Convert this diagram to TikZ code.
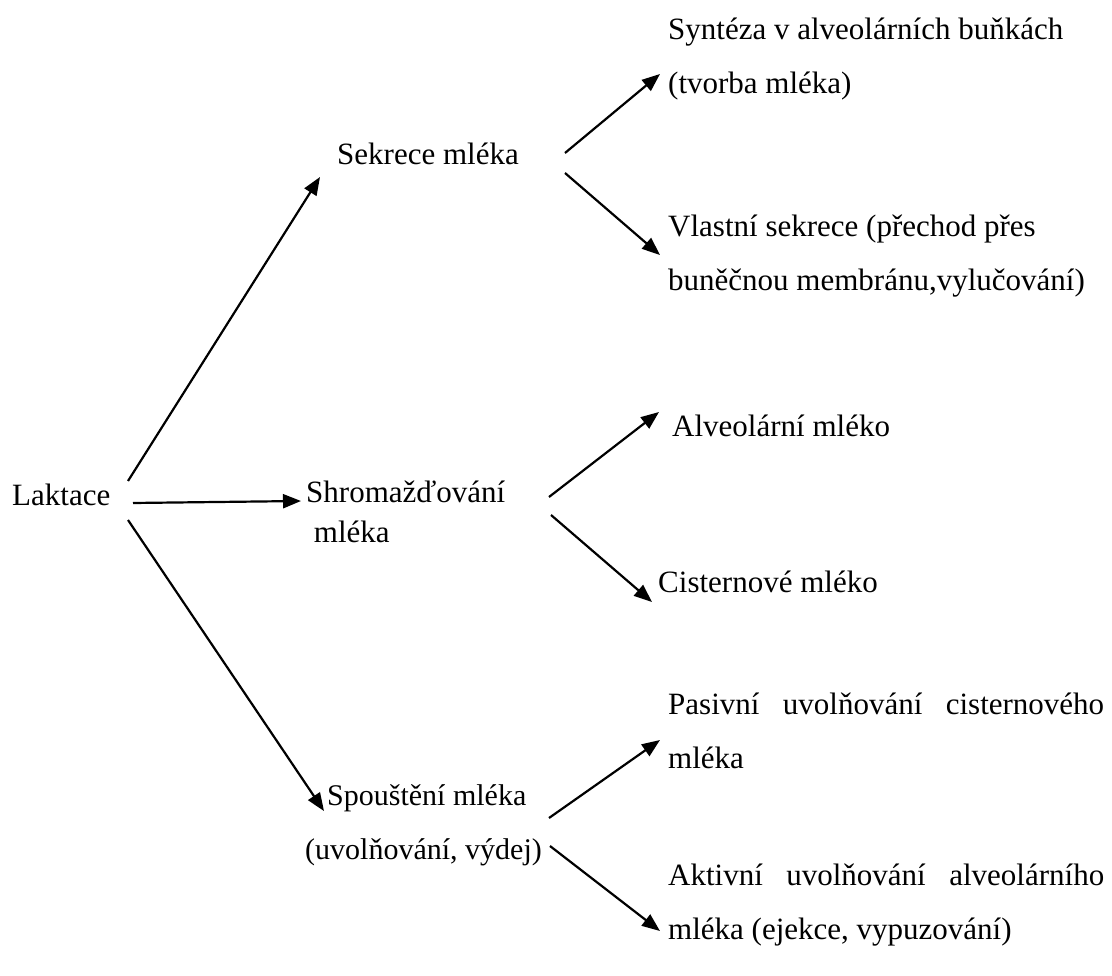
\documentclass[tikz,border=0pt]{standalone}
\usepackage{fontspec}
\setmainfont{Liberation Serif}
\usetikzlibrary{arrows.meta}
\newcommand{\jline}[1]{\makebox[436pt][s]{#1}}
\tikzset{
  txt/.style={inner sep=0pt, anchor=base west, font=\fontsize{31}{54}\selectfont},
  arr/.style={line width=2.2pt, -{Triangle[length=18pt,width=14pt]}},
}
\begin{document}
\begin{tikzpicture}[x=1pt,y=-1pt]
\useasboundingbox (0,0) rectangle (1112,976);
% nodes
\node[txt] (lak) at (12,505) {Laktace};
\node[txt] (sek) at (337,165) {Sekrece mléka};
\node[txt, font=\fontsize{31}{40}\selectfont] (shr) at (306,502) {\begin{tabular}[t]{@{}l@{}}Shromažďování\\ \ mléka\end{tabular}};
\node[txt, font=\fontsize{30}{54}\selectfont] (spo) at (305,805) {\begin{tabular}[t]{@{}l@{}}\hspace{22pt}Spouštění mléka\\(uvolňování, výdej)\end{tabular}};
\node[txt] (syn) at (668,40) {\begin{tabular}[t]{@{}l@{}}Syntéza v alveolárních buňkách\\(tvorba mléka)\end{tabular}};
\node[txt] (vla) at (668,237) {\begin{tabular}[t]{@{}l@{}}Vlastní sekrece (přechod přes\\buněčnou membránu,vylučování)\end{tabular}};
\node[txt] (alv) at (672,436) {Alveolární mléko};
\node[txt] (cis) at (658,592) {Cisternové mléko};
\node[txt] (pas) at (668,714) {\begin{tabular}[t]{@{}l@{}}\jline{Pasivní uvolňování cisternového}\\mléka\end{tabular}};
\node[txt] (akt) at (668,885) {\begin{tabular}[t]{@{}l@{}}\jline{Aktivní uvolňování alveolárního}\\mléka (ejekce, vypuzování)\end{tabular}};
% connectors
\draw[arr] ([shift={(116,-24)}]lak.base west) -- ([shift={(-17,12)}]sek.base west);
\draw[arr] ([shift={(121,-2)}]lak.base west) -- ([shift={(-5,-1)}]shr.base west);
\draw[arr] ([shift={(116,15)}]lak.base west) -- ([shift={(19,6)}]spo.base west);
\draw[arr] ([shift={(228,-12)}]sek.base west) -- ([shift={(-8,34)}]syn.base west);
\draw[arr] ([shift={(228,8)}]sek.base west) -- ([shift={(-8,18)}]vla.base west);
\draw[arr] ([shift={(243,-5)}]shr.base west) -- ([shift={(-13,-24)}]alv.base west);
\draw[arr] ([shift={(245,13)}]shr.base west) -- ([shift={(-6,10)}]cis.base west);
\draw[arr] ([shift={(244,13)}]spo.base west) -- ([shift={(-8,26)}]pas.base west);
\draw[arr] ([shift={(245,41)}]spo.base west) -- ([shift={(-8,46)}]akt.base west);
\end{tikzpicture}
\end{document}
